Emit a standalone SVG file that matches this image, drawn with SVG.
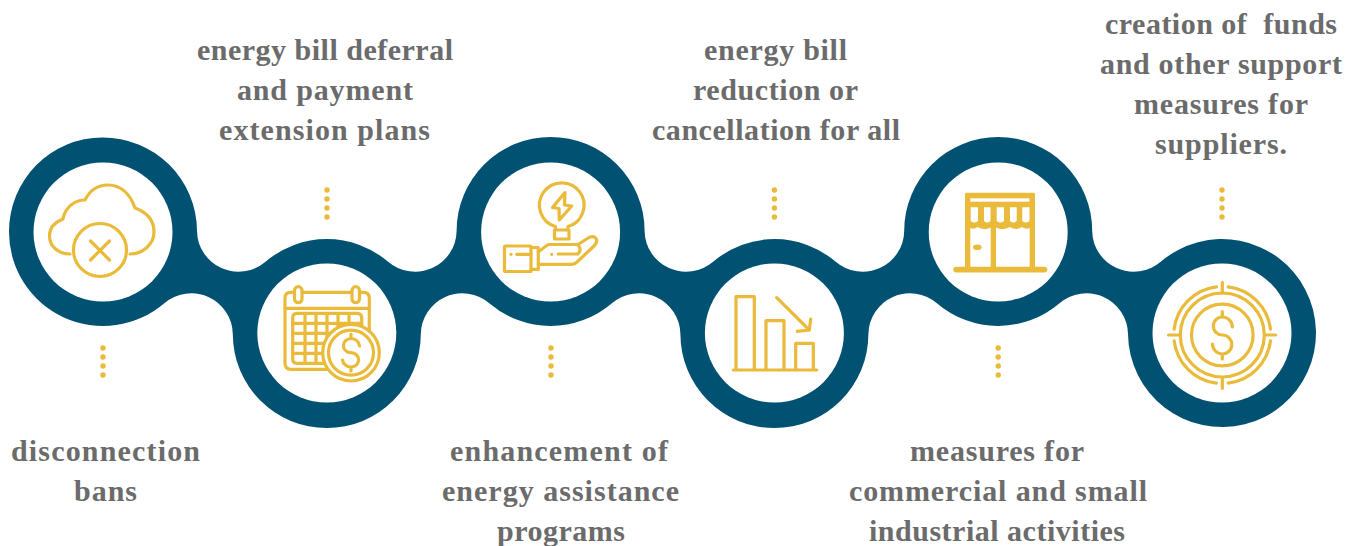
<svg xmlns="http://www.w3.org/2000/svg" width="1358" height="546" viewBox="0 0 1358 546">
<style>
.t{font-family:"Liberation Serif","Times New Roman",serif;font-weight:700;font-size:30px;fill:#6b6b6b;text-anchor:middle;white-space:pre}
.i{fill:none;stroke:#eaba3a;stroke-width:3.200;stroke-linecap:round;stroke-linejoin:round}
.g{fill:#eaba3a}
.w{fill:#fff}
.d{fill:none;stroke:#eaba3a;stroke-width:5.400;stroke-linecap:round;stroke-dasharray:0 9}
</style>
<rect width="1358" height="546" fill="#fff"/>
<g id="connectors">
<path id="band" fill="#005172" d="M9,232 A94,94 0 0 1 197,230.900 A41.500,41.500 0 0 0 265.500,261.800 A94,94 0 0 1 388.100,261.800 A41.500,41.500 0 0 0 456.600,230.900 A94,94 0 0 1 644.600,230.900 A41.500,41.500 0 0 0 713.100,261.800 A94,94 0 0 1 835.700,261.800 A41.500,41.500 0 0 0 904.200,230.900 A94,94 0 0 1 1092.200,230.900 A41.500,41.500 0 0 0 1160.700,261.800 A94,94 0 1 1 1128,334.100 A41.500,41.500 0 0 0 1059.500,303.200 A94,94 0 0 1 936.900,303.200 A41.500,41.500 0 0 0 868.400,334.100 A94,94 0 0 1 680.400,334.100 A41.500,41.500 0 0 0 611.900,303.200 A94,94 0 0 1 489.300,303.200 A41.500,41.500 0 0 0 420.800,334.100 A94,94 0 0 1 232.800,334.100 A41.500,41.500 0 0 0 164.300,303.200 A94,94 0 0 1 9,232 Z"/>
<path class="d" d="M103,348V376"/>
<path class="d" d="M327,190V218"/>
<path class="d" d="M551,348V376"/>
<path class="d" d="M774.400,190V218"/>
<path class="d" d="M998.200,348V376"/>
<path class="d" d="M1222,190V218"/>
</g>
<g id="node-1">
<circle class="w" cx="103" cy="232" r="69.500"/>
<path class="i" d="M70,254 C58,254 49.500,246 49.500,236 C49.500,228 55,222 63,219 C65,208 74,200 85,200 C90,190 98,185 108,185 C120,185 130,193 135,208 C146,212 154,220 154,232 C154,244 143,254 130,254"/>
<circle class="i" cx="100" cy="250" r="26.500"/>
<path class="i" d="M90.500,241 L109.500,260 M109.500,241 L90.500,260"/>
<text class="t" x="105.500" y="461" textLength="189">disconnection</text>
<text class="t" x="105.500" y="501" textLength="63">bans</text>
</g>
<g id="node-2">
<circle class="w" cx="326.800" cy="333" r="69.500"/>
<path class="i" d="M328,369.300 H291 Q285,369.300 285,363 V298 Q285,292.300 291,292.300 H363 Q369.300,292.300 369.300,298 V330"/>
<rect class="i" x="294.500" y="286.700" width="7.500" height="16" rx="3.700" style="fill:#fff"/>
<rect class="i" x="352" y="286.700" width="7.500" height="16" rx="3.700" style="fill:#fff"/>
<path class="i" d="M285,308.300 H369.300"/>
<path class="i" d="M361.700,330 V318 Q361.700,313.300 357,313.300 H297 Q292.700,313.300 292.700,318 V359 Q292.700,363.300 297,363.300 H325"/>
<path class="i" d="M305,313.300 V363.300 M316,313.300 V363.300 M327,313.300 V345 M338,313.300 V335 M349,313.300 V325 M292.700,323.300 H361.700 M292.700,333.300 H345 M292.700,343.300 H330 M292.700,353.300 H325"/>
<circle class="i" cx="351" cy="352.700" r="28.300" style="fill:#fff"/>
<circle class="i" cx="351" cy="352.700" r="22.500"/>
<path class="i" d="M359.500,346 A8.500,8 0 0 0 351,338.500 A7.500,7 0 0 0 351,352.700 A7.500,7 0 0 1 351,367 A8.500,8 0 0 1 342.500,360 M351,334 V338.500 M351,367 V371"/>
<text class="t" x="325" y="60" textLength="256">energy bill deferral</text>
<text class="t" x="325" y="100" textLength="176">and payment</text>
<text class="t" x="324.500" y="140" textLength="211">extension plans</text>
</g>
<g id="node-3">
<circle class="w" cx="550.600" cy="232" r="69.500"/>
<path class="i" d="M555.500,226.500 A22.300,22.300 0 1 1 568,226.500 M555.500,226.500 V230 M568,226.500 V230 M554.500,230 H569 V239 H554.500 Z"/>
<path class="i" d="M565,192.500 L552.500,207.500 L559,208.500 L559.300,220 L571.700,206 L564.500,205 Z"/>
<rect class="i" x="504.500" y="246" width="26.500" height="25.500" rx="1"/>
<path class="i" d="M531,247.500 H538.300 V269.300 H531"/>
<path class="i" d="M538.300,252 Q543,248 548.300,244.500 H578 L589,237.500 Q595,235 596.800,240 Q597,243 594,246 L577,262 Q575,264.300 571,264.300 H538.300"/>
<path class="i" d="M578,244.500 Q582,250 578,254 H558.300 M551.700,254.300 H551.800 M511,254.300 H511.100 M516.700,254.300 H531"/>
<text class="t" x="559" y="461" textLength="218">enhancement of</text>
<text class="t" x="560.500" y="501" textLength="237">energy assistance</text>
<text class="t" x="561" y="541" textLength="128">programs</text>
</g>
<g id="node-4">
<circle class="w" cx="774.400" cy="333" r="69.500"/>
<path class="i" d="M736,370 V296.700 H754.300 V370 M766,370 V320.700 H784 V370 M795.700,370 V343.300 H813.300 V370 M733.300,370 H816.700 M776.700,297.700 L809.300,330 M810.700,319 L809.300,330 L797.300,331.300"/>
<text class="t" x="775.500" y="60" textLength="143">energy bill</text>
<text class="t" x="775.500" y="100" textLength="165">reduction or</text>
<text class="t" x="776" y="140" textLength="248">cancellation for all</text>
</g>
<g id="node-5">
<circle class="w" cx="998.200" cy="232" r="69.500"/>
<rect class="g" x="965" y="192.700" width="70" height="76" rx="1.500"/>
<rect class="g" x="953.300" y="266.700" width="94" height="5.700" rx="2.800"/>
<rect class="w" x="970.300" y="198.300" width="59.200" height="3.400"/>
<path class="w" d="M970.700,207.300 H978 V221 Q974.300,224 970.700,221 Z M984,207.300 H990.500 V221 Q987.300,224 984,221 Z M996.700,207.300 H1004 V221 Q1000.300,224 996.700,221 Z M1010,207.300 H1016.700 V221 Q1013.300,224 1010,221 Z M1022.300,207.300 H1029.500 V221 Q1026,224 1022.300,221 Z"/>
<path class="w" d="M970.300,266.700 V228 Q974,230 977.500,227 Q984,231 990.700,227.500 V266.700 Z M996,266.700 V227.500 Q1003,231 1010,227 Q1016,231 1022,227 Q1026,230 1029.700,228 V266.700 Z"/>
<ellipse class="g" cx="977.300" cy="247.300" rx="4.300" ry="2.800"/>
<text class="t" x="997" y="461" textLength="174">measures for</text>
<text class="t" x="998" y="501" textLength="298">commercial and small</text>
<text class="t" x="997" y="541" textLength="256">industrial activities</text>
</g>
<g id="node-6">
<circle class="w" cx="1222" cy="333" r="69.500"/>
<circle class="i" cx="1222.300" cy="335" r="30.800"/>
<circle class="i" cx="1222.300" cy="335" r="42"/>
<circle class="i" cx="1222.300" cy="335" r="48.500" pathLength="360" stroke-dasharray="76 14" stroke-dashoffset="-7"/>
<path class="i" d="M1222.300,282.300 V293 M1222.300,378 V388.500 M1168.500,335 H1179.300 M1265.300,335 H1275.700"/>
<path class="i" d="M1232.300,327 A10,10 0 0 0 1222.300,317 A9,9 0 0 0 1222.300,335 A9.500,9.500 0 0 1 1222.300,354 A10,10 0 0 1 1212.500,344 M1222.300,311.700 V317 M1222.300,354 V359"/>
<text class="t" x="1221" y="34" textLength="232">creation of  funds</text>
<text class="t" x="1221" y="74" textLength="242">and other support</text>
<text class="t" x="1221" y="114" textLength="174">measures for</text>
<text class="t" x="1221" y="154" textLength="132">suppliers.</text>
</g>
</svg>
